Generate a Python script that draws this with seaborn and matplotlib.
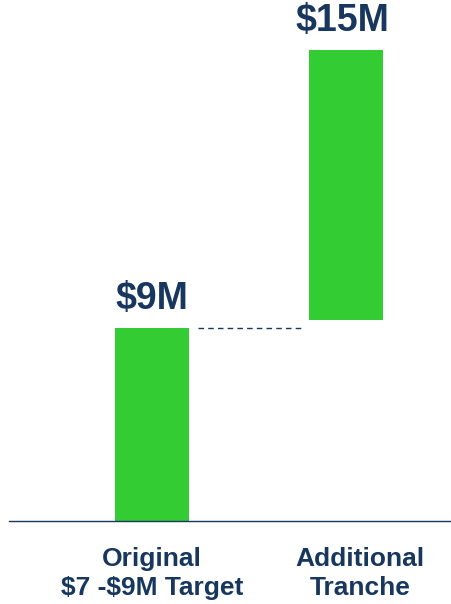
import matplotlib
matplotlib.use("Agg")
import matplotlib.pyplot as plt
import matplotlib.transforms as mtransforms
import seaborn as sns
import pandas as pd

# Data
categories = ["Original\n$7 -$9M Target", "Additional\nTranche"]
bar_bottoms = [0.0, 9.4]
bar_tops = [9.0, 22.0]
value_labels = ["$9M", "$15M"]

GREEN = "#33CC33"
NAVY = "#17375E"

sns.set_theme(style="white")
plt.rcParams["font.family"] = ["Liberation Sans", "DejaVu Sans"]
plt.rcParams["text.parse_math"] = False

df = pd.DataFrame({
    "category": categories,
    "height": [t - b for t, b in zip(bar_tops, bar_bottoms)],
    "bottom": bar_bottoms,
})

fig = plt.figure(figsize=(4.52, 6.04), dpi=100)
ax = fig.add_axes([0.02, 1 - 521 / 604, 0.98, 521 / 604])

sns.barplot(data=df, x="category", y="height", bottom=df["bottom"].tolist(),
            color=GREEN, saturation=1, width=0.38, ax=ax, edgecolor="none")

# connector line at the end of the first bar
ax.plot([0.237, 0.784], [bar_tops[0], bar_tops[0]], color=NAVY, lw=1.0,
        ls=(0, (4, 3)))

label_dx = [0, -3]
for i, (top, lab) in enumerate(zip(bar_tops, value_labels)):
    ax.annotate(lab, (i, top), xytext=(label_dx[i], 8), textcoords="offset points",
                ha="center", va="bottom", fontsize=27, fontweight="bold",
                color=NAVY)

ax.set_xlim(-0.737, 1.546)
ax.set_ylim(0, 24.35)
ax.set_xlabel("")
ax.set_ylabel("")
ax.set_yticks([])
ax.tick_params(axis="x", length=0, pad=19)
tick_dx = [0, 14]
for i, t in enumerate(ax.get_xticklabels()):
    t.set_fontsize(19)
    t.set_fontweight("bold")
    t.set_color(NAVY)
    t.set_linespacing(1.22)
    if tick_dx[i]:
        t.set_transform(t.get_transform() +
                        mtransforms.ScaledTranslation(tick_dx[i] / 100, 0,
                                                      fig.dpi_scale_trans))

for s in ["top", "right", "left"]:
    ax.spines[s].set_visible(False)
ax.spines["bottom"].set_color(NAVY)
ax.spines["bottom"].set_linewidth(1.0)

fig.savefig("out.png", dpi=100)
